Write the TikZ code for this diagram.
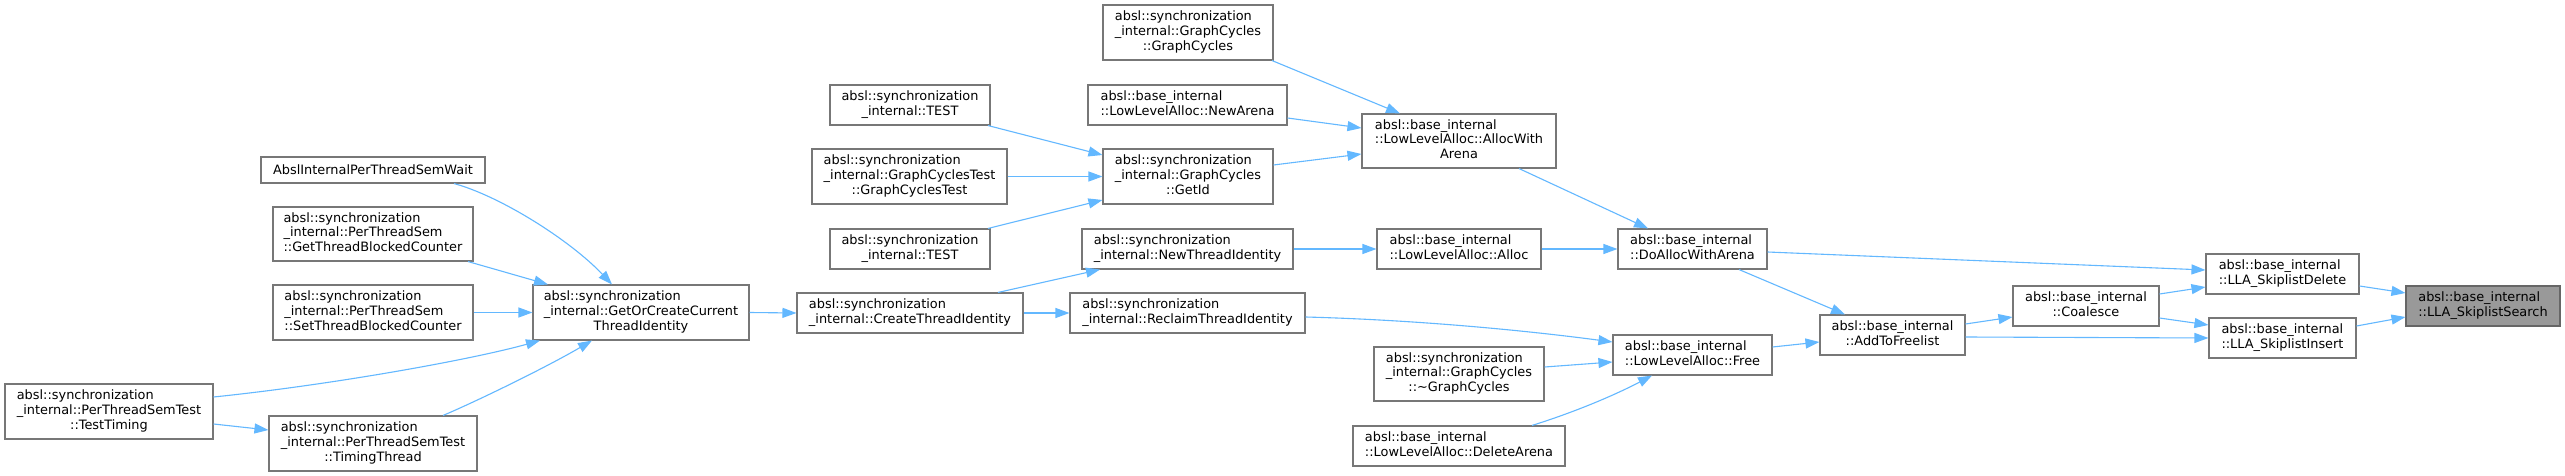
\documentclass[tikz,border=0pt]{standalone}
\usepackage{fontspec}
\setmainfont{DejaVu Sans}
\usetikzlibrary{arrows.meta,calc}
\definecolor{boxborder}{HTML}{777777}
\definecolor{hifill}{HTML}{999999}
\definecolor{edgec}{HTML}{63B8FF}
\newcommand\lc[1]{\multicolumn{1}{@{}c@{}}{#1}}
\newcommand\tb[1]{\begin{tabular}{@{}l@{}}#1\end{tabular}}
\begin{document}
\begin{tikzpicture}[x=1pt,y=-1pt,
  box/.style={draw=boxborder, line width=1.1pt, fill=white, inner sep=0pt,
    font=\fontsize{12.9}{14.7}\selectfont, text=black},
  edge/.style={draw=edgec, line width=1.1pt, -{Triangle[length=14pt,width=10pt]}}]
\fill[white] (0,0) rectangle (2565,476);
\useasboundingbox (0,0) rectangle (2565,476);

% nodes
\node[box, minimum width=224pt, minimum height=26pt] (semwait) at (373,170) {AbslInternalPerThreadSemWait};
\node[box, minimum width=200pt, minimum height=54pt] (gettbc) at (373,234) {\tb{absl::synchronization\\\_internal::PerThreadSem\\::GetThreadBlockedCounter}};
\node[box, minimum width=200pt, minimum height=55pt] (settbc) at (373,312.5) {\tb{absl::synchronization\\\_internal::PerThreadSem\\::SetThreadBlockedCounter}};
\node[box, minimum width=208pt, minimum height=55pt] (testtiming) at (109,411.5) {\tb{absl::synchronization\\\_internal::PerThreadSemTest\\\lc{::TestTiming}}};
\node[box, minimum width=208pt, minimum height=55pt] (timingthread) at (373,443.5) {\tb{absl::synchronization\\\_internal::PerThreadSemTest\\\lc{::TimingThread}}};
\node[box, minimum width=216pt, minimum height=55pt] (getorcreate) at (641,312.5) {\tb{absl::synchronization\\\_internal::GetOrCreateCurrent\\\lc{ThreadIdentity}}};
\node[box, minimum width=160pt, minimum height=40pt] (testA) at (910,105) {\tb{absl::synchronization\\\lc{\_internal::TEST}}};
\node[box, minimum width=195pt, minimum height=55pt] (gctest) at (909.5,176.5) {\tb{absl::synchronization\\\_internal::GraphCyclesTest\\\lc{::GraphCyclesTest}}};
\node[box, minimum width=160pt, minimum height=40pt] (testB) at (910,249) {\tb{absl::synchronization\\\lc{\_internal::TEST}}};
\node[box, minimum width=226pt, minimum height=40pt] (createti) at (910,313) {\tb{absl::synchronization\\\_internal::CreateThreadIdentity}};
\node[box, minimum width=170pt, minimum height=55pt] (gcctor) at (1188,32.5) {\tb{absl::synchronization\\\_internal::GraphCycles\\\lc{::GraphCycles}}};
\node[box, minimum width=199pt, minimum height=40pt] (newarena) at (1187.5,105) {\tb{absl::base\_internal\\::LowLevelAlloc::NewArena}};
\node[box, minimum width=170pt, minimum height=55pt] (getid) at (1188,176.5) {\tb{absl::synchronization\\\_internal::GraphCycles\\\lc{::GetId}}};
\node[box, minimum width=211pt, minimum height=40pt] (newti) at (1187.5,249) {\tb{absl::synchronization\\\_internal::NewThreadIdentity}};
\node[box, minimum width=235pt, minimum height=40pt] (reclaim) at (1187.5,313) {\tb{absl::synchronization\\\_internal::ReclaimThreadIdentity}};
\node[box, minimum width=194pt, minimum height=54pt] (awa) at (1459,141) {\tb{absl::base\_internal\\::LowLevelAlloc::AllocWith\\\lc{Arena}}};
\node[box, minimum width=164pt, minimum height=40pt] (alloc) at (1459,249) {\tb{absl::base\_internal\\::LowLevelAlloc::Alloc}};
\node[box, minimum width=170pt, minimum height=54pt] (gcdtor) at (1459,374) {\tb{absl::synchronization\\\_internal::GraphCycles\\\lc{::\textasciitilde GraphCycles}}};
\node[box, minimum width=212pt, minimum height=40pt] (delarena) at (1459,446) {\tb{absl::base\_internal\\::LowLevelAlloc::DeleteArena}};
\node[box, minimum width=149pt, minimum height=40pt] (doalloc) at (1692.5,249) {\tb{absl::base\_internal\\::DoAllocWithArena}};
\node[box, minimum width=159pt, minimum height=40pt] (free) at (1692.5,355) {\tb{absl::base\_internal\\::LowLevelAlloc::Free}};
\node[box, minimum width=145pt, minimum height=40pt] (addfl) at (1892.5,335) {\tb{absl::base\_internal\\\lc{::AddToFreelist}}};
\node[box, minimum width=146pt, minimum height=40pt] (coalesce) at (2086,306) {\tb{absl::base\_internal\\\lc{::Coalesce}}};
\node[box, minimum width=153pt, minimum height=40pt] (sdel) at (2282.5,274) {\tb{absl::base\_internal\\::LLA\_SkiplistDelete}};
\node[box, minimum width=147pt, minimum height=40pt] (sins) at (2282.5,338) {\tb{absl::base\_internal\\::LLA\_SkiplistInsert}};
\node[box, fill=hifill, draw=black!60, minimum width=154pt, minimum height=40pt] (search) at (2483,306) {\tb{absl::base\_internal\\::LLA\_SkiplistSearch}};

% edges
\draw[edge] ($(sdel.east)+(0,12)$) -- ($(search.west)+(0,-13)$);
\draw[edge] ($(sins.east)+(0,-12)$) -- ($(search.west)+(0,11)$);
\draw[edge] ($(doalloc.east)+(0,3)$) -- ($(sdel.west)+(0,-4)$);
\draw[edge] ($(coalesce.east)+(0,-12)$) -- ($(sdel.west)+(0,13)$);
\draw[edge] ($(coalesce.east)+(0,12)$) -- ($(sins.west)+(0,-13)$);
\draw[edge] ($(addfl.east)+(0,2)$) -- (sins.west);
\draw[edge] ($(addfl.east)+(0,-11)$) -- ($(coalesce.west)+(0,11)$);
\draw[edge] ($(doalloc.south)+(46.5,0)$) -- ($(addfl.north)+(-47.5,0)$);
\draw[edge] ($(free.east)+(0,-8)$) -- ($(addfl.west)+(0,7)$);
\draw[edge] ($(awa.south)+(60,0)$) -- ($(doalloc.north)+(-44.5,0)$);
\draw[edge] (alloc.east) -- (doalloc.west);
\draw[edge] ($(gcctor.south)+(84,0)$) -- ($(awa.north)+(-59,0)$);
\draw[edge] ($(newarena.east)+(0,13)$) -- ($(awa.west)+(0,-13)$);
\draw[edge] ($(getid.east)+(0,-11.5)$) -- ($(awa.west)+(0,13)$);
\draw[edge] ($(testA.south)+(78,0)$) -- ($(getid.west)+(0,-21.5)$);
\draw[edge] (gctest.east) -- (getid.west);
\draw[edge] ($(testB.north)+(78,0)$) -- ($(getid.west)+(0,23.5)$);
\draw[edge] (newti.east) -- (alloc.west);
\draw[edge] ($(createti.north)+(88,0)$) -- ($(newti.south)+(-87.5,0)$);
\draw[edge] (createti.east) -- (reclaim.west);
\draw[edge] ($(reclaim.east)+(0,4)$) .. controls (1420,320) and (1530,331) .. ($(free.west)+(0,-13)$);
\draw[edge] ($(gcdtor.east)+(0,-7)$) -- ($(free.west)+(0,7)$);
\draw[edge] ($(delarena.north)+(73,0)$) .. controls (1575,412) and (1615,395) .. ($(free.south)+(-40.5,0)$);
\draw[edge] (getorcreate.east) -- (createti.west);
\draw[edge] ($(semwait.south)+(81,0)$) .. controls (500,196) and (570,240) .. ($(getorcreate.north)+(-29,0)$);
\draw[edge] ($(gettbc.south)+(95,0)$) -- ($(getorcreate.north)+(-93,0)$);
\draw[edge] (settbc.east) -- (getorcreate.west);
\draw[edge] ($(testtiming.east)+(0,-14.5)$) .. controls (330,385) and (470,360) .. ($(getorcreate.south)+(-101,0)$);
\draw[edge] ($(timingthread.north)+(70,0)$) .. controls (475,402) and (545,368) .. ($(getorcreate.south)+(-49,0)$);
\draw[edge] ($(testtiming.east)+(0,12.5)$) -- ($(timingthread.west)+(0,-13.5)$);
\end{tikzpicture}
\end{document}
